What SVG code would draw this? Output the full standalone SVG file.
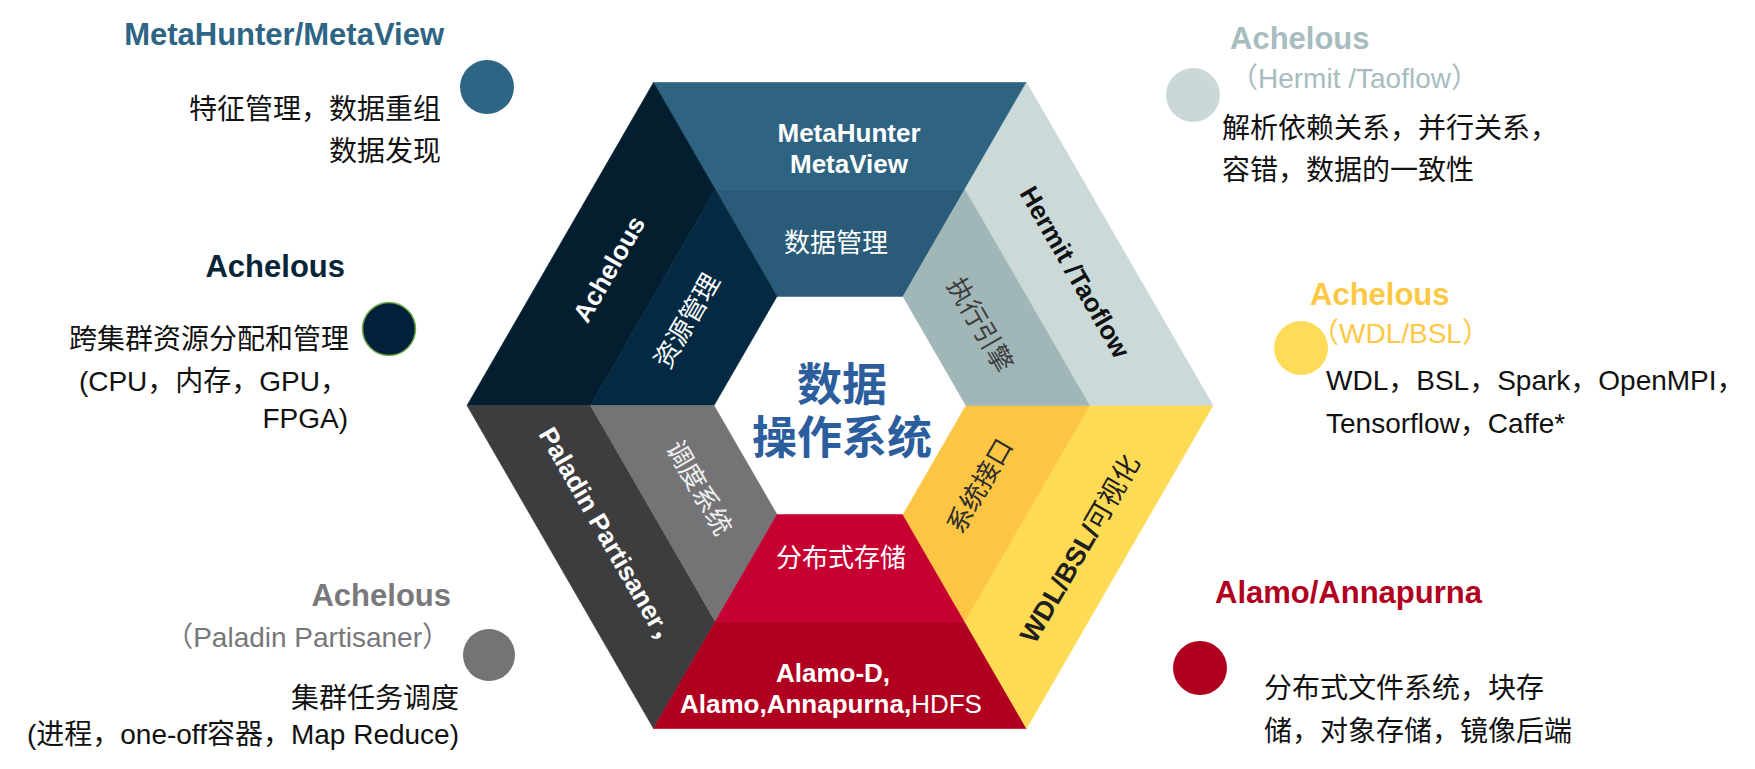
<svg xmlns="http://www.w3.org/2000/svg" width="1755" height="769" viewBox="0 0 1755 769">
<style>
  text { font-family: "Liberation Sans", "Noto Sans CJK SC", sans-serif; }
  .t28 { font-size: 28px; fill: #111; }
  .b31 { font-size: 31px; font-weight: bold; }
  .in26 { font-size: 26px; }
  .inb26 { font-size: 26px; font-weight: bold; }
  .w { fill: #ffffff; }
  .rot { dominant-baseline: central; text-anchor: middle; }
  .ctr { font-family: "Noto Sans CJK SC", sans-serif; font-size: 45px; font-weight: bold; fill: #2c5e9e; text-anchor: middle; }
</style>
<rect width="1755" height="769" fill="#ffffff"/>

<g id="connectors"></g>

<g id="hexagon">
  <g id="sector-top">
    <polygon points="653.5,82.5 1026.5,82.5 964.75,189.4 715.25,189.4" fill="#2e6482" stroke="#2e6482" stroke-width="0.6"/>
    <polygon points="715.25,189.4 964.75,189.4 903,296.4 777,296.4" fill="#2a5c7a" stroke="#2a5c7a" stroke-width="0.6"/>
    <text class="inb26 w" x="849" y="142" text-anchor="middle">MetaHunter</text>
    <text class="inb26 w" x="849" y="173" text-anchor="middle">MetaView</text>
    <text class="in26 w" x="836" y="252" text-anchor="middle">数据管理</text>
  </g>
  <g id="sector-upper-left">
    <polygon points="467,405.5 653.5,82.5 715.25,189.4 590.5,405.5" fill="#021e2f" stroke="#021e2f" stroke-width="0.6"/>
    <polygon points="590.5,405.5 715.25,189.4 777,296.4 714,405.5" fill="#032a42" stroke="#032a42" stroke-width="0.6"/>
    <text class="inb26 w rot" transform="translate(609,269) rotate(-60)">Achelous</text>
    <text class="in26 w rot" transform="translate(687,321) rotate(-60)">资源管理</text>
  </g>
  <g id="sector-lower-left">
    <polygon points="467,405.5 590.5,405.5 715.25,621.6 653.5,728.5" fill="#3d3d3f" stroke="#3d3d3f" stroke-width="0.6"/>
    <polygon points="590.5,405.5 714,405.5 777,514.6 715.25,621.6" fill="#747477" stroke="#747477" stroke-width="0.6"/>
    <text class="inb26 w rot" transform="translate(609,539) rotate(60)">Paladin Partisaner，</text>
    <text class="in26 rot" fill="#efefef" transform="translate(699,488) rotate(60)">调度系统</text>
  </g>
  <g id="sector-bottom">
    <polygon points="653.5,728.5 715.25,621.6 964.75,621.6 1026.5,728.5" fill="#b0001f" stroke="#b0001f" stroke-width="0.6"/>
    <polygon points="715.25,621.6 777,514.6 903,514.6 964.75,621.6" fill="#c70032" stroke="#c70032" stroke-width="0.6"/>
    <text class="in26 w" x="841" y="567" text-anchor="middle">分布式存储</text>
    <text class="inb26 w" x="833" y="682" text-anchor="middle">Alamo-D,</text>
    <text class="in26 w" x="831" y="713" text-anchor="middle"><tspan font-weight="bold">Alamo,Annapurna,</tspan>HDFS</text>
  </g>
  <g id="sector-lower-right">
    <polygon points="1026.5,728.5 964.75,621.6 1089.5,405.5 1213,405.5" fill="#fedb55" stroke="#fedb55" stroke-width="0.6"/>
    <polygon points="964.75,621.6 903,514.6 966,405.5 1089.5,405.5" fill="#fdc544" stroke="#fdc544" stroke-width="0.6"/>
    <text class="rot" style="font-size:27px" fill="#1f1f1f" transform="translate(1080,549) rotate(-60)"><tspan font-weight="bold">WDL/BSL/</tspan>可视化</text>
    <text class="in26 rot" fill="#2d2d2d" transform="translate(980,486) rotate(-60)">系统接口</text>
  </g>
  <g id="sector-upper-right">
    <polygon points="1213,405.5 1089.5,405.5 964.75,189.4 1026.5,82.5" fill="#cbdad9" stroke="#cbdad9" stroke-width="0.6"/>
    <polygon points="1089.5,405.5 966,405.5 903,296.4 964.75,189.4" fill="#a0b6b7" stroke="#a0b6b7" stroke-width="0.6"/>
    <text class="inb26 rot" fill="#111" transform="translate(1075,272) rotate(60)">Hermit /Taoflow</text>
    <text class="in26 rot" fill="#3d3d3d" transform="translate(980,325) rotate(60)">执行引擎</text>
  </g>
  <g id="center-title">
    <text class="ctr" x="842" y="401">数据</text>
    <text class="ctr" x="842" y="454">操作系统</text>
  </g>
</g>

<g id="note-metahunter">
  <circle cx="487" cy="87" r="27" fill="#2e6584"/>
  <text class="b31" fill="#2e6584" x="444" y="45" text-anchor="end">MetaHunter/MetaView</text>
  <text class="t28" x="441" y="119" text-anchor="end">特征管理，数据重组</text>
  <text class="t28" x="441" y="161" text-anchor="end">数据发现</text>
</g>

<g id="note-achelous-resource">
  <circle cx="389" cy="329" r="26.5" fill="#03203a" stroke="#6fae4a" stroke-width="1.5"/>
  <text class="b31" fill="#062539" x="345" y="277" text-anchor="end">Achelous</text>
  <text class="t28" x="349" y="349" text-anchor="end">跨集群资源分配和管理</text>
  <text class="t28" x="348" y="391" text-anchor="end">(CPU，内存，GPU，</text>
  <text class="t28" x="348" y="428" text-anchor="end">FPGA)</text>
</g>

<g id="note-achelous-paladin">
  <circle cx="489" cy="655" r="26" fill="#747477"/>
  <text class="b31" fill="#79797b" x="451" y="606" text-anchor="end">Achelous</text>
  <text style="font-size:28px" fill="#77777a" x="450" y="647" text-anchor="end">（Paladin Partisaner）</text>
  <text class="t28" x="459" y="708" text-anchor="end">集群任务调度</text>
  <text class="t28" x="459" y="744" text-anchor="end">(进程，one-off容器，Map Reduce)</text>
</g>

<g id="note-achelous-hermit">
  <circle cx="1193" cy="95" r="27" fill="#cad9d8"/>
  <text class="b31" fill="#a6bcbe" x="1230" y="49">Achelous</text>
  <text style="font-size:28px" fill="#a6bcbe" x="1230" y="88">（Hermit /Taoflow）</text>
  <text class="t28" x="1222" y="138">解析依赖关系，并行关系，</text>
  <text class="t28" x="1222" y="180">容错，数据的一致性</text>
</g>

<g id="note-achelous-wdl">
  <circle cx="1301" cy="348" r="27" fill="#fedb58"/>
  <text class="b31" fill="#fdc843" x="1310" y="305">Achelous</text>
  <text style="font-size:28px" fill="#fdc843" x="1311" y="343">（WDL/BSL）</text>
  <text class="t28" x="1326" y="390">WDL，BSL，Spark，OpenMPI，</text>
  <text class="t28" x="1326" y="433">Tensorflow，Caffe*</text>
</g>

<g id="note-alamo">
  <circle cx="1200" cy="668" r="27" fill="#af001e"/>
  <text class="b31" fill="#b0001e" x="1215" y="603">Alamo/Annapurna</text>
  <text class="t28" x="1264" y="698">分布式文件系统，块存</text>
  <text class="t28" x="1264" y="741">储，对象存储，镜像后端</text>
</g>
</svg>
